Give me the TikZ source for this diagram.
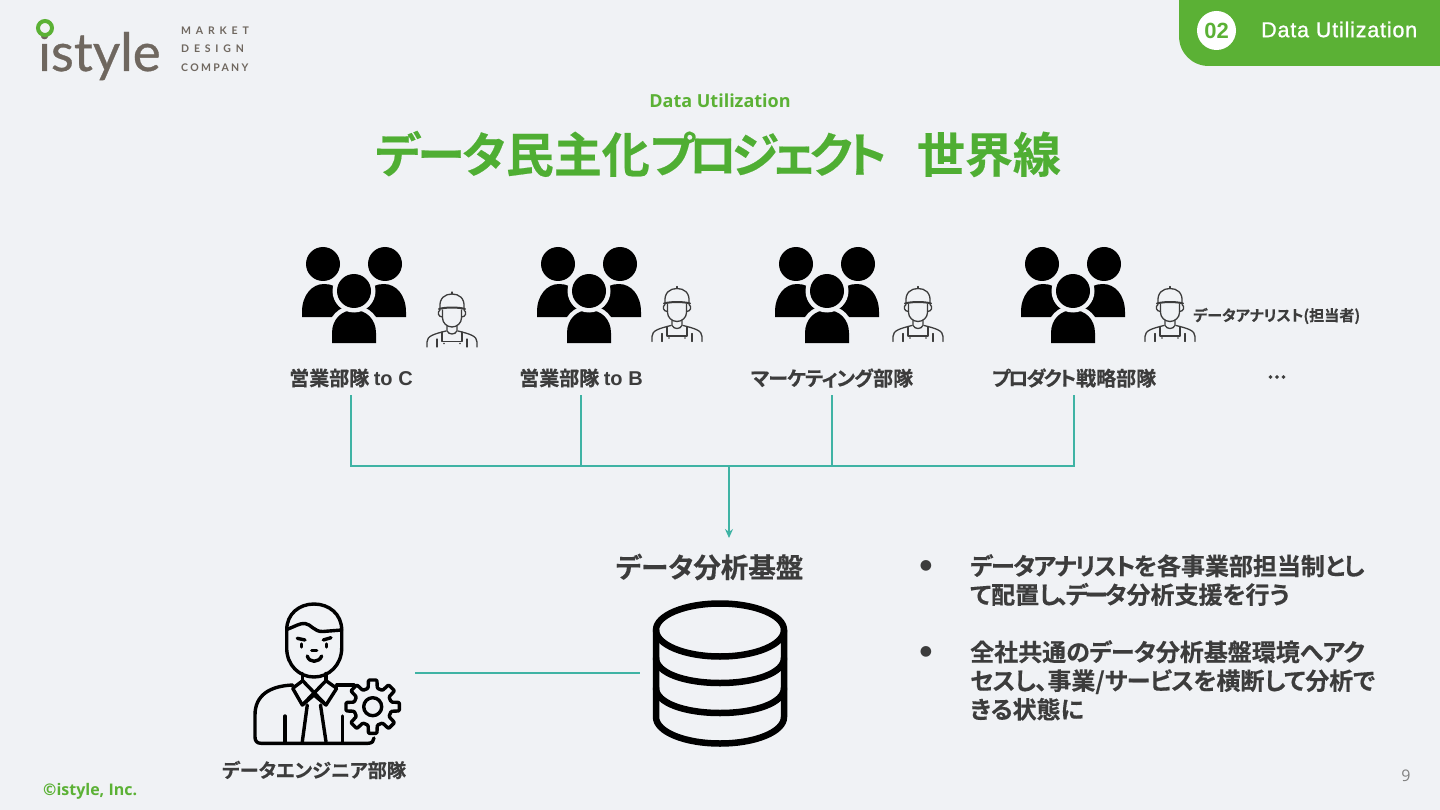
\documentclass[tikz,border=0pt]{standalone}
\usepackage{fontspec}
\usetikzlibrary{arrows.meta}
\setmainfont{Open Sans}
\newfontfamily\jp[RawFeature=+palt,BoldFont={Noto Sans CJK JP Bold},BoldFeatures={FakeBold=0.4}]{Noto Sans CJK JP}
\newfontfamily\arial{Liberation Sans}
\newfontfamily\tabfont[LetterSpace=3.8,FakeBold=1]{Liberation Sans}
\newfontfamily\logomain[FakeBold=0.6]{Lato}
\newfontfamily\logoa[LetterSpace=46]{Lato}
\newfontfamily\logob[LetterSpace=22]{Lato}
\newcommand{\sq}[2]{{\addfontfeature{LetterSpace=#1}#2}}
\definecolor{bg}{HTML}{F0F2F5}
\definecolor{igreen}{HTML}{5BB135}
\definecolor{tgreen}{HTML}{4FAE33}
\definecolor{teal}{HTML}{3FB3A4}
\definecolor{ink}{HTML}{3C3C3C}
\definecolor{logoc}{HTML}{6F675F}
\tikzset{
  x=1pt,y=-1pt,
  link/.style={draw=teal,line width=1.4pt},
  lbl/.style={inner sep=0pt,text=ink,font=\jp\bfseries\fontsize{20}{24}\selectfont,minimum height=34pt},
  body/.style={inner sep=0pt,anchor=north west,align=left,text=ink,font=\jp\bfseries\fontsize{24}{28.7}\selectfont},
  team/.pic={
    \fill (-31,264) circle (17) (31,264) circle (17);
    \fill (-52,317) -- (-52,312) .. controls (-52,295) and (-42,284) .. (-30,284) .. controls (-15,284) and (-5,295) .. (-4,317) -- cycle;
    \fill (52,317) -- (52,312) .. controls (52,295) and (42,284) .. (30,284) .. controls (15,284) and (5,295) .. (4,317) -- cycle;
    \draw[bg,line width=9pt,fill=bg] (-22,347) -- (-22,333) .. controls (-22,319) and (-12,310) .. (0,310) .. controls (12,310) and (22,319) .. (22,333) -- (22,347) -- cycle;
    \fill[bg] (-30,343) rectangle (30,352);
    \fill (-22,343) -- (-22,333) .. controls (-22,319) and (-12,310) .. (0,310) .. controls (12,310) and (22,319) .. (22,333) -- (22,343) -- cycle;
    \fill[bg] (0,291) circle (21.5);
    \fill (0,291) circle (17);
  },
  worker/.pic={
    \begin{scope}[draw=ink,line width=1.3pt,line cap=round,line join=round]
    \draw (-12,308) .. controls (-13,298) and (-7,294) .. (0,294) .. controls (7,294) and (13,298) .. (12,308);
    \draw (0,294) -- (0,292);
    \draw[line width=2pt] (-13,309) .. controls (-6,307) and (6,307) .. (13,309);
    \draw (-9.5,310) -- (-9.5,318) .. controls (-9.5,323) and (-5,327) .. (0,327) .. controls (5,327) and (9.5,323) .. (9.5,318) -- (9.5,310);
    \draw (-12,310) .. controls (-15,312) and (-14,317) .. (-9.5,317) (12,310) .. controls (15,312) and (14,317) .. (9.5,317);
    \draw (-5,326) -- (-5,331) .. controls (-3,335) and (3,335) .. (5,331) -- (5,326);
    \draw (-25,347) -- (-25,342) .. controls (-25,336) and (-18,334) .. (-6,331);
    \draw (25,347) -- (25,342) .. controls (25,336) and (18,334) .. (6,331);
    \draw (-10,332) -- (-10,341.5) -- (10,341.5) -- (10,332);
    \draw (-15,339) -- (-15,347) (15,339) -- (15,347);
    \fill[ink] (-8,343.5) circle (0.8) (8,343.5) circle (0.8);
    \end{scope}
  }
}
\begin{document}
\begin{tikzpicture}
\useasboundingbox (0,0) rectangle (1440,810);
\fill[bg] (0,0) rectangle (1440,810);
% logo
\node[inner sep=0pt,anchor=base west,text=logoc,font=\logomain\fontsize{53}{53}\selectfont] (logo) at (38,71) {istyle};
\filldraw[draw=igreen,fill=bg,line width=4pt] (45,28) circle (7);
\node[inner sep=0pt,anchor=west,text=logoc,font=\logoa\bfseries\fontsize{10.5}{12}\selectfont] (lm) at (181,31) {MARKET};
\node[inner sep=0pt,anchor=west,text=logoc,font=\logoa\bfseries\fontsize{10.5}{12}\selectfont] (ld) at (181,49) {DESIGN};
\node[inner sep=0pt,anchor=west,text=logoc,font=\logob\bfseries\fontsize{10.5}{12}\selectfont] (lc) at (181,68) {COMPANY};
% tab
\fill[igreen] (1179,0) -- (1179,36) .. controls (1179,53) and (1192,66) .. (1209,66) -- (1440,66) -- (1440,0) -- cycle;
\node[circle,fill=white,minimum size=39pt,inner sep=0pt,text=igreen,font=\arial\bfseries\fontsize{22}{24}\selectfont] (num) at (1216.5,30.5) {02};
\node[inner sep=0pt,anchor=west,text=white,font=\tabfont\fontsize{21.5}{24}\selectfont] (tab) at (1261,29.5) {Data Utilization};
% titles
\node[inner sep=0pt,text=igreen,font=\bfseries\fontsize{18}{22}\selectfont] (sub) at (720,100.5) {Data Utilization};
\node[inner sep=0pt,text=tgreen,font=\jp\bfseries\fontsize{48}{56}\selectfont] (title) at (718,154) {\sq{-5}{データ}民主化\sq{-12}{プロジェクト}\hspace{30pt}世界線};
% teams
\pic at (354,0) {team};
\pic at (589,0) {team};
\pic at (827,0) {team};
\pic at (1073,0) {team};
\pic at (452,0) {worker};
\pic at (677,-5.5) {worker};
\pic at (918,-5.5) {worker};
\pic at (1170,-5.5) {worker};
\node[inner sep=0pt,anchor=west,text=ink,font=\jp\bfseries\fontsize{15.1}{18}\selectfont] (analyst) at (1193,316) {データアナリスト(担当者)};
% labels
\node[lbl] (a) at (351,378) {営業部隊 {\arial\bfseries to C}};
\node[lbl] (b) at (581,378) {営業部隊 {\arial\bfseries to B}};
\node[lbl] (c) at (832,378) {\sq{-4}{マーケティング}部隊};
\node[lbl] (d) at (1074,378) {\sq{-11}{プロダクト}戦略部隊};
\node[lbl] (e) at (1277,377) {...};
% connectors
\coordinate (hub) at (729,466);
\coordinate (dbtop) at (729,538);
\draw[link] (a.south) -- (a.south |- hub) -- (d.south |- hub) -- (d.south);
\draw[link] (b.south) -- (b.south |- hub);
\draw[link] (c.south) -- (c.south |- hub);
\draw[link,-{Stealth[length=9pt,width=8pt]}] (hub) -- (dbtop);
\coordinate (engr) at (415,673);
\coordinate (dbl) at (640,673);
\draw[link] (engr) -- (dbl);
% database
\node[inner sep=0pt,text=ink,font=\jp\bfseries\fontsize{27.5}{32}\selectfont] (dbname) at (709.5,567) {データ分析基盤};
\begin{scope}[line width=6.5pt,line cap=round,line join=round]
\draw (720,630) ellipse [x radius=64,y radius=26.5];
\draw (656,630) -- (656,717) .. controls (656,732) and (685,743.5) .. (720,743.5) .. controls (755,743.5) and (784,732) .. (784,717) -- (784,630);
\draw (656,658) .. controls (656,673) and (685,683) .. (720,683) .. controls (755,683) and (784,673) .. (784,658);
\draw (656,688) .. controls (656,703) and (685,713) .. (720,713) .. controls (755,713) and (784,703) .. (784,688);
\end{scope}
% engineer
\begin{scope}[line width=3.4pt,line cap=round,line join=round]
\draw (286.7,630) .. controls (286.7,614) and (299,604) .. (314,604) .. controls (329,604) and (341.7,614) .. (341.7,630) -- (341.7,648) .. controls (341.7,665) and (329,677) .. (314,677) .. controls (299,677) and (286.7,665) .. (286.7,648) -- cycle;
\draw (286.7,629.5) .. controls (296,626) and (300,623) .. (305,623.5) .. controls (311,624) and (314,632) .. (323,631.5) -- (341.7,630);
\draw (297.3,638.3) -- (305,640);
\draw (323.3,640) -- (331,637.7);
\draw (301.5,644) -- (301.5,647) (326.7,644) -- (326.7,647);
\draw (311.7,650.7) -- (316.7,650.7);
\draw (307.3,656) .. controls (309,663) and (319,663) .. (321.7,656);
\draw (302.7,673.5) -- (302.7,680.7) (326,673.5) -- (326,680.7);
\draw (302.7,680.7) -- (292.7,688.3) -- (302.3,705) -- (314,695) -- (326,705) -- (336.7,688.3) -- (326,680.7);
\draw (302.7,680.7) -- (326,705) (326,680.7) -- (302.3,705);
\draw (307.3,705) -- (302.3,741.7) (320.5,705) -- (326,741.7);
\draw (292.7,685) .. controls (270,686) and (255,695) .. (255,715) -- (255,737) .. controls (255,741) and (257,743.3) .. (261,743.3) -- (368,743.3) .. controls (372,743.3) and (374,741) .. (374,738);
\draw (336.7,685) -- (354,685);
\draw (285,716) -- (285,741.7) (342.7,716) -- (342.7,741.7);
\begin{scope}[shift={(372.7,706.7)}]
\filldraw[fill=bg,rounded corners=1pt] (-14:19)
  \foreach \a in {0,45,...,315} { -- (\a-14:19) -- (\a-9:27) -- (\a+9:27) -- (\a+14:19) } -- cycle;
\draw (0,0) circle (9);
\end{scope}
\end{scope}
\node[inner sep=0pt,text=ink,font=\jp\bfseries\fontsize{19.2}{24}\selectfont] (engname) at (314,770) {データエンジニア部隊};
% bullets
\node[inner sep=0pt,text=ink,font=\fontspec{DejaVu Sans}\fontsize{14}{18}\selectfont] (b1) at (926,566) {●};
\node[inner sep=0pt,text=ink,font=\fontspec{DejaVu Sans}\fontsize{14}{18}\selectfont] (b2) at (926,652) {●};
\node[body] (t1) at (970,554) {\sq{-6}{データアナリストを}各事業部担当制\sq{-6}{とし}\\\sq{-14}{て}配置\sq{-14}{し、データ}分析支援\sq{-14}{を}行\sq{-14}{う}};
\node[body] (t2) at (970,640) {全社共通\sq{-2.5}{のデータ}分析基盤環境\sq{-2.5}{へアク}\\\sq{-2}{セスし、}事業/\sq{-2}{サービスを}横断\sq{-2}{して}分析\sq{-2}{で}\\きる状態に};
% footer
\node[inner sep=0pt,anchor=west,text=igreen,font=\bfseries\fontsize{16}{20}\selectfont] (copy) at (43,791) {©istyle, Inc.};
\node[inner sep=0pt,text=black!50,font=\fontsize{16}{18}\selectfont] (page) at (1406,776) {9};
\end{tikzpicture}
\end{document}
